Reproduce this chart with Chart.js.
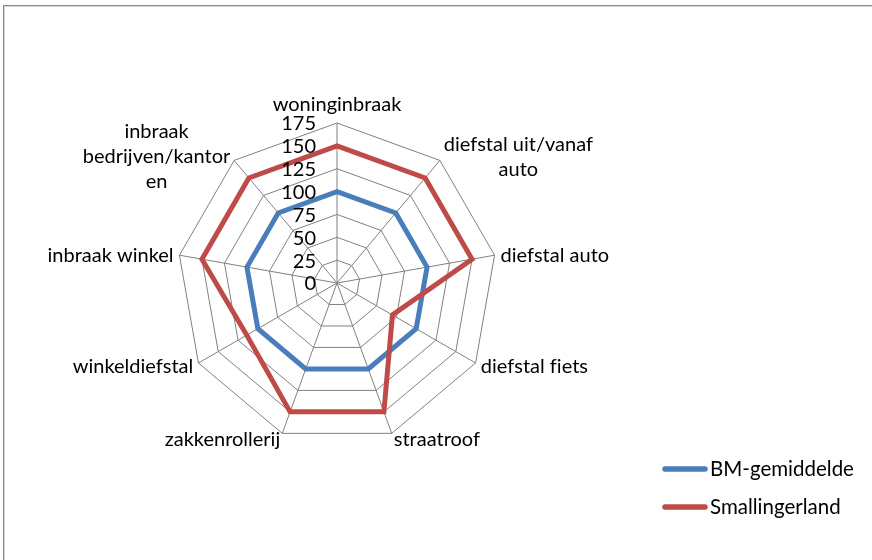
<!DOCTYPE html>
<html><head><meta charset="utf-8">
<script src="https://cdn.jsdelivr.net/npm/chart.js@4.4.1/dist/chart.umd.min.js"></script>
<style>
html,body{margin:0;padding:0;background:#fff;overflow:hidden;}
#wrap{position:relative;width:872px;height:560px;overflow:hidden;}
#frame{position:absolute;left:3px;top:5px;width:920px;height:620px;border-left:1px solid #8a8a8a;border-top:1px solid #8a8a8a;box-shadow:inset 1px 1px 0 #d4d4d4;}
canvas{position:absolute;left:0;top:0;}
</style></head><body>
<div id="wrap"><div id="frame"></div><canvas id="c" width="872" height="560"></canvas></div>
<script>
const categories = ['woninginbraak', ['diefstal uit/vanaf','auto'], 'diefstal auto', 'diefstal fiets', 'straatroof', 'zakkenrollerij', 'winkeldiefstal', 'inbraak winkel', ['inbraak','bedrijven/kantor','en']];
const seriesNames = ['BM-gemiddelde', 'Smallingerland'];
const bmValues = [100, 100, 100, 100, 100, 100, 100, 100, 100];
const smallingerlandValues = [150, 150, 150, 70, 150, 150, 114, 150, 150];
const tickValues = [0, 25, 50, 75, 100, 125, 150, 175];

const LABEL_FONT = '20px Lato';
const LEGEND_FONT = '20.5px Lato';
// avoid the "fi" ligature when painting (the text itself is unchanged)
const noLig = str => str.replace(/f(?=[il])/g, 'f\u200C');

const excelLabels = {
  id: 'excelLabels',
  afterDraw(chart) {
    const s = chart.scales.r;
    const ctx = chart.ctx;
    ctx.save();
    ctx.fillStyle = '#000';
    ctx.font = LABEL_FONT;
    ctx.textBaseline = 'middle';
    // tick labels, left of vertical axis
    ctx.textAlign = 'right';
    s.ticks.forEach(t => {
      const y = s.yCenter - s.getDistanceFromCenterForValue(t.value);
      ctx.fillText(String(t.value), s.xCenter - 21, y + 1);
    });
    // point labels
    ctx.textAlign = 'center';
    const lh = 25;
    chart.data.labels.forEach((lab, i) => {
      const lines = (Array.isArray(lab) ? lab : [lab]).map(noLig);
      const p = s.getPointPosition(i, s.drawingArea + 6);
      const deg = Math.round(((s.getIndexAngle(i) * 180 / Math.PI) % 360 + 360) % 360);
      const w = Math.max(...lines.map(l => ctx.measureText(l).width));
      let cx;
      if (deg === 0 || deg === 180) cx = p.x;
      else if (deg < 180) cx = p.x + w / 2;
      else cx = p.x - w / 2;
      const n = lines.length;
      const cy = deg === 0 ? p.y - 12 - (n - 1) * lh / 2 : p.y + 1;
      lines.forEach((l, k) => {
        ctx.fillText(l, cx, cy + (k - (n - 1) / 2) * lh);
      });
    });
    // legend
    ctx.font = LEGEND_FONT;
    ctx.textAlign = 'left';
    chart.data.datasets.forEach((ds, i) => {
      const y = 469 + i * 38;
      ctx.strokeStyle = ds.borderColor;
      ctx.lineWidth = 5.5;
      ctx.lineCap = 'round';
      ctx.beginPath();
      ctx.moveTo(665, y);
      ctx.lineTo(705, y);
      ctx.stroke();
      ctx.fillStyle = '#000';
      ctx.fillText(ds.label, 710, y);
    });
    ctx.restore();
  }
};

new Chart(document.getElementById('c'), {
  type: 'radar',
  data: {
    labels: categories,
    datasets: [
      { label: seriesNames[0], data: bmValues, borderColor: '#4A7EBB', backgroundColor: '#4A7EBB', borderWidth: 5, fill: false, pointRadius: 0, pointHoverRadius: 0, order: 1, borderJoinStyle: 'miter' },
      { label: seriesNames[1], data: smallingerlandValues, borderColor: '#BE4B48', backgroundColor: '#BE4B48', borderWidth: 5, fill: false, pointRadius: 0, pointHoverRadius: 0, order: 0, borderJoinStyle: 'miter' }
    ]
  },
  options: {
    responsive: false,
    animation: false,
    devicePixelRatio: 1,
    layout: { padding: { left: 177, right: 375, top: 123, bottom: 117 } },
    plugins: { legend: { display: false }, tooltip: { enabled: false } },
    scales: {
      r: {
        min: 0,
        max: 175,
        afterBuildTicks: scale => { scale.ticks = tickValues.map(v => ({ value: v })); },
        ticks: { display: false, stepSize: 25 },
        grid: { color: '#808080', lineWidth: 1 },
        angleLines: { color: '#808080', lineWidth: 1 },
        pointLabels: { display: false }
      }
    }
  },
  plugins: [excelLabels]
});
</script>
</body></html>
